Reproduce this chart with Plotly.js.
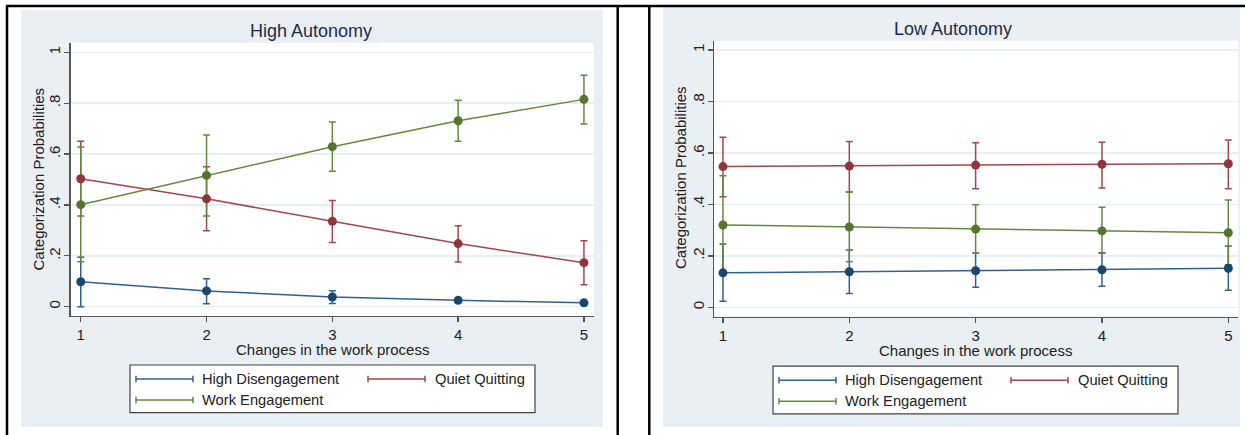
<!DOCTYPE html>
<html>
<head>
<meta charset="utf-8">
<script src="https://cdn.plot.ly/plotly-3.0.1.min.js"></script>
<style>html,body{margin:0;padding:0;background:#fff;}#chart{width:1245px;height:435px;}</style>
</head>
<body>
<div id="chart"></div>
<script>
// ---------- data ----------
const xVals = [1, 2, 3, 4, 5];
const xTickVals = [1, 2, 3, 4, 5];
const xTickText = ['1', '2', '3', '4', '5'];
const yTickVals = [0, 0.2, 0.4, 0.6, 0.8, 1];
const yTickText = ['0', '.2', '.4', '.6', '.8', '1'];

const seriesNames = ['High Disengagement', 'Quiet Quitting', 'Work Engagement'];
const panelTitles = ['High Autonomy', 'Low Autonomy'];
const xTitle = 'Changes in the work process';
const yTitle = 'Categorization Probabilities';

// High Autonomy
const haDisMean = [0.098, 0.062, 0.038, 0.025, 0.015];
const haDisLow  = [0.000, 0.012, 0.013, 0.016, 0.009];
const haDisHigh = [0.194, 0.110, 0.063, 0.033, 0.021];
const haQQMean  = [0.503, 0.424, 0.336, 0.248, 0.173];
const haQQLow   = [0.357, 0.299, 0.252, 0.176, 0.086];
const haQQHigh  = [0.650, 0.550, 0.417, 0.318, 0.259];
const haWEMean  = [0.401, 0.516, 0.629, 0.731, 0.815];
const haWELow   = [0.177, 0.357, 0.532, 0.650, 0.718];
const haWEHigh  = [0.628, 0.675, 0.726, 0.812, 0.910];

// Low Autonomy
const laDisMean = [0.134, 0.138, 0.142, 0.146, 0.152];
const laDisLow  = [0.023, 0.054, 0.078, 0.082, 0.066];
const laDisHigh = [0.246, 0.223, 0.210, 0.212, 0.238];
const laQQMean  = [0.547, 0.549, 0.553, 0.556, 0.558];
const laQQLow   = [0.430, 0.448, 0.461, 0.464, 0.461];
const laQQHigh  = [0.661, 0.645, 0.640, 0.642, 0.650];
const laWEMean  = [0.320, 0.312, 0.304, 0.297, 0.290];
const laWELow   = [0.130, 0.177, 0.210, 0.210, 0.165];
const laWEHigh  = [0.511, 0.448, 0.399, 0.389, 0.417];

// ---------- styling ----------
const W = 1245, H = 435;
const FONT = 'Arial, Liberation Sans, sans-serif';
const markerColors = ['#1a476f', '#90353b', '#55752f'];
const lineColors   = ['#34608a', '#a3464e', '#67873f'];
const px = v => v / W;
const py = v => 1 - v / H;

const panels = [
  {xa: 'x',  ya: 'y',  data: [[haDisMean, haDisLow, haDisHigh], [haQQMean, haQQLow, haQQHigh], [haWEMean, haWELow, haWEHigh]],
   dx: 0, dy: 0, bg: [21, 10, 603, 427], plot: [70.7, 43, 594, 316], xr: [0.92, 5.08]},
  {xa: 'x2', ya: 'y2', data: [[laDisMean, laDisLow, laDisHigh], [laQQMean, laQQLow, laQQHigh], [laWEMean, laWELow, laWEHigh]],
   dx: 643, dy: 1.2, bg: [663, 7, 1240, 427], plot: [714, 40.7, 1238.3, 316.7], xr: [0.929, 5.079]}
];

const traces = [];
panels.forEach(p => {
  p.data.forEach((s, i) => {
    const [m, lo, hi] = s;
    traces.push({
      x: xVals, y: m, xaxis: p.xa, yaxis: p.ya, type: 'scatter', mode: 'markers',
      marker: {size: 1, color: 'rgba(0,0,0,0)'}, showlegend: false, hoverinfo: 'skip',
      error_y: {type: 'data', symmetric: false,
        array: m.map((v, k) => hi[k] - v), arrayminus: m.map((v, k) => v - lo[k]),
        color: lineColors[i], thickness: 1.5, width: 3.5}
    });
  });
  p.data.forEach((s, i) => {
    traces.push({
      x: xVals, y: s[0], xaxis: p.xa, yaxis: p.ya, type: 'scatter', mode: 'lines+markers',
      name: seriesNames[i], showlegend: false,
      line: {color: lineColors[i], width: 1.5},
      marker: {color: markerColors[i], size: 9}
    });
  });
});

const shapes = [];
const annotations = [];
panels.forEach((p, idx) => {
  shapes.push({type: 'rect', xref: 'paper', yref: 'paper', layer: 'below',
    x0: px(p.bg[0]), x1: px(p.bg[2]), y0: py(p.bg[3]), y1: py(p.bg[1]),
    fillcolor: '#e9eff2', line: {width: 0}});
  shapes.push({type: 'rect', xref: p.xa + ' domain', yref: p.ya + ' domain', layer: 'below',
    x0: 0, x1: 1, y0: 0, y1: 1, fillcolor: '#ffffff', line: {width: 0}});

  const dx = p.dx, dy = p.dy;
  shapes.push({type: 'rect', xref: 'paper', yref: 'paper',
    x0: px(130 + dx), x1: px(535 + dx), y0: py(412.7 + dy), y1: py(365 + dy),
    fillcolor: '#ffffff', line: {color: '#444', width: 1.2}});
  const entries = [
    {i: 0, x0: 136, x1: 193, y: 379, tx: 200},
    {i: 1, x0: 368, x1: 425, y: 379, tx: 433},
    {i: 2, x0: 136, x1: 193, y: 400, tx: 200}
  ];
  entries.forEach(e => {
    const c = lineColors[e.i];
    const yy = e.y + dy;
    shapes.push({type: 'line', xref: 'paper', yref: 'paper',
      x0: px(e.x0 + dx), x1: px(e.x1 + dx), y0: py(yy), y1: py(yy), line: {color: c, width: 1.5}});
    [e.x0, e.x1].forEach(cx => shapes.push({type: 'line', xref: 'paper', yref: 'paper',
      x0: px(cx + dx), x1: px(cx + dx), y0: py(yy - 3.2), y1: py(yy + 3.2), line: {color: c, width: 1.5}}));
    annotations.push({xref: 'paper', yref: 'paper', x: px(e.tx + dx), y: py(yy),
      xanchor: 'left', yanchor: 'middle', showarrow: false, text: seriesNames[e.i],
      font: {family: FONT, size: 14.7, color: '#222'}});
  });

  annotations.push({xref: 'paper', yref: 'paper', x: px(idx === 0 ? 310.5 : 953), y: py(idx === 0 ? 31 : 28.5),
    xanchor: 'center', yanchor: 'middle', showarrow: false, text: panelTitles[idx],
    font: {family: FONT, size: 18, color: '#1e2c4c'}});
  annotations.push({xref: 'paper', yref: 'paper', x: px(332.5 + dx), y: py(349 + dy),
    xanchor: 'center', yanchor: 'middle', showarrow: false, text: xTitle,
    font: {family: FONT, size: 15, color: '#222'}});
  annotations.push({xref: 'paper', yref: 'paper', x: px(idx === 0 ? 38 : 680), y: py(idx === 0 ? 179.5 : 178),
    xanchor: 'center', yanchor: 'middle', showarrow: false, text: yTitle, textangle: -90,
    font: {family: FONT, size: 15, color: '#222'}});
});

[[6, 6, 1245, 6], [7, 6, 7, 435], [617.7, 6, 617.7, 435], [649.3, 6, 649.3, 435]].forEach(l => {
  shapes.push({type: 'line', xref: 'paper', yref: 'paper',
    x0: px(l[0]), x1: px(l[2]), y0: py(l[1]), y1: py(l[3]), line: {color: '#000', width: 2.5}});
});

function xAxis(p) {
  return {domain: [px(p.plot[0]), px(p.plot[2])], range: p.xr, anchor: p.ya,
    tickmode: 'array', tickvals: xTickVals, ticktext: xTickText,
    ticks: 'outside', ticklen: 5, tickwidth: 1.3, tickcolor: '#555',
    showline: true, linecolor: '#555', linewidth: 1.3, showgrid: false, zeroline: false,
    tickfont: {family: FONT, size: 15, color: '#222'}, fixedrange: true};
}
function yAxis(p) {
  return {domain: [py(p.plot[3]), py(p.plot[1])], range: [-0.0366, 1.0366], anchor: p.xa,
    tickmode: 'array', tickvals: yTickVals, ticktext: yTickText, tickangle: -90,
    ticks: 'outside', ticklen: 5, tickwidth: 1.3, tickcolor: '#555',
    showline: true, linecolor: '#555', linewidth: 1.3, ticklabelstandoff: -2,
    showgrid: true, gridcolor: '#e8eff2', gridwidth: 1.5, zeroline: false,
    tickfont: {family: FONT, size: 15, color: '#222'}, fixedrange: true};
}

const layout = {
  width: W, height: H, margin: {l: 0, r: 0, t: 0, b: 0, autoexpand: false},
  paper_bgcolor: '#ffffff', plot_bgcolor: 'rgba(0,0,0,0)',
  showlegend: false,
  xaxis: xAxis(panels[0]), yaxis: yAxis(panels[0]),
  xaxis2: xAxis(panels[1]), yaxis2: yAxis(panels[1]),
  shapes: shapes, annotations: annotations,
  font: {family: FONT}
};

Plotly.newPlot('chart', traces, layout, {displayModeBar: false, staticPlot: true});
</script>
</body>
</html>
